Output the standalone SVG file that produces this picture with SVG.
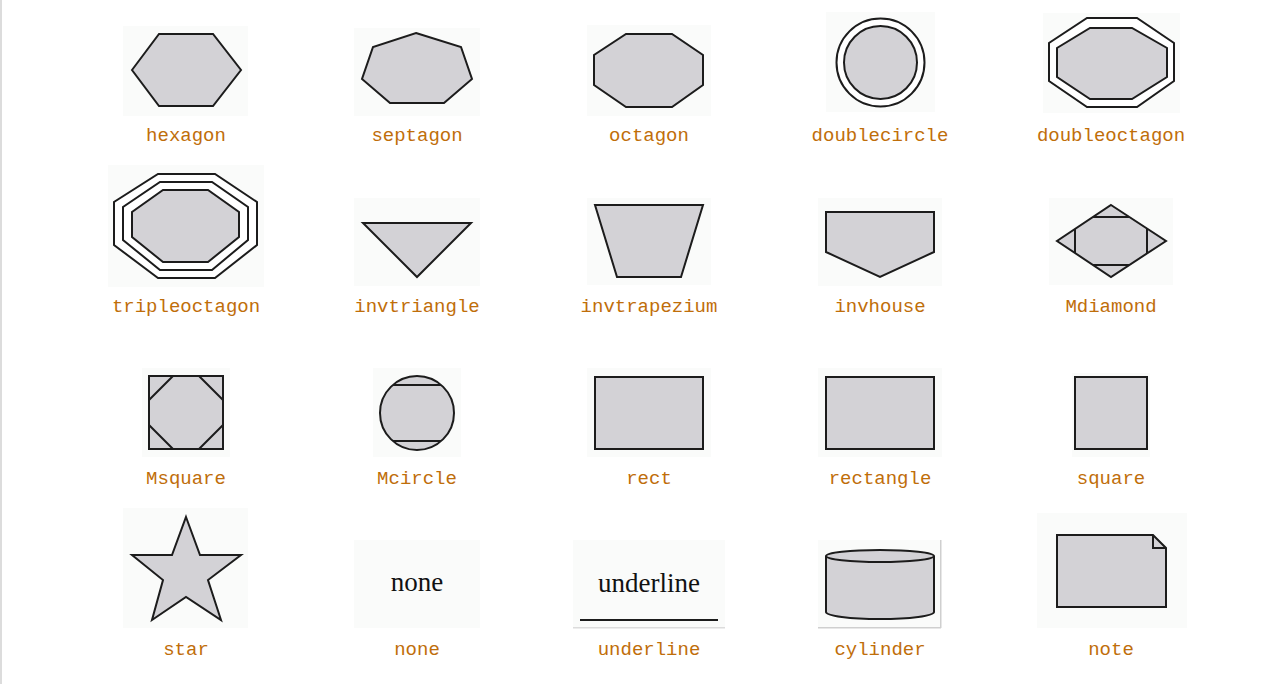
<svg xmlns="http://www.w3.org/2000/svg" width="1265" height="684" viewBox="0 0 1265 684">
<style>
.bg{fill:#fafbfa}
.s{fill:#d3d2d6;stroke:#1c1c1c;stroke-width:2;stroke-linejoin:miter}
.l{fill:none;stroke:#1c1c1c;stroke-width:2}
.w{fill:#ffffff;stroke:#1c1c1c;stroke-width:2}
.lab{font-family:"Liberation Mono","DejaVu Sans Mono",monospace;font-size:19px;fill:#bf6e0a;text-anchor:middle}
.ser{font-family:"Liberation Serif","Times New Roman",serif;font-size:27px;fill:#111;text-anchor:middle}
</style>
<rect x="0" y="0" width="1265" height="684" fill="#ffffff"/>
<rect x="0" y="0" width="2" height="684" fill="#dcdcdc"/>

<g id="hexagon">
<rect class="bg" x="123" y="26" width="125" height="90"/>
<polygon class="s" points="132,70 159,34 213,34 241,70 213,106 159,106"/>
<text class="lab" x="186" y="141">hexagon</text>
</g>
<g id="septagon">
<rect class="bg" x="354" y="28" width="126" height="88"/>
<polygon class="s" points="416,33 461,47 472,79 444,103 390,103 362,79 373,47"/>
<text class="lab" x="417" y="141">septagon</text>
</g>
<g id="octagon">
<rect class="bg" x="587" y="25" width="124" height="91"/>
<polygon class="s" points="626,34 672,34 703,55 703,85 672,107 626,107 594,85 594,55"/>
<text class="lab" x="649" y="141">octagon</text>
</g>
<g id="doublecircle">
<rect class="bg" x="826" y="12" width="109" height="100"/>
<circle class="w" cx="880.5" cy="62.5" r="44"/>
<circle class="s" cx="880.5" cy="62.5" r="36.5"/>
<text class="lab" x="880" y="141">doublecircle</text>
</g>
<g id="doubleoctagon">
<rect class="bg" x="1043" y="13" width="137" height="100"/>
<polygon class="w" points="1087,18 1137,18 1174,43 1174,81 1137,107 1087,107 1049,81 1049,43"/>
<polygon class="s" points="1090,28 1132,28 1167,48 1167,77 1132,99 1090,99 1057,77 1057,48"/>
<text class="lab" x="1111" y="141">doubleoctagon</text>
</g>

<g id="tripleoctagon">
<rect class="bg" x="108" y="165" width="156" height="122"/>
<polygon class="w" points="158,174 215,174 257,202 257,245 215,278 158,278 114,245 114,202"/>
<polygon class="w" points="160,182 212,182 248,207 248,240 212,270 160,270 123,240 123,207"/>
<polygon class="s" points="163,190 208,190 239,212 239,237 208,262 163,262 132,237 132,212"/>
<text class="lab" x="186" y="312">tripleoctagon</text>
</g>
<g id="invtriangle">
<rect class="bg" x="354" y="198" width="126" height="88"/>
<polygon class="s" points="363,223 471,223 417,277"/>
<text class="lab" x="417" y="312">invtriangle</text>
</g>
<g id="invtrapezium">
<rect class="bg" x="587" y="198" width="124" height="87"/>
<polygon class="s" points="595,205 703,205 681,277 617,277"/>
<text class="lab" x="649" y="312">invtrapezium</text>
</g>
<g id="invhouse">
<rect class="bg" x="818" y="198" width="124" height="88"/>
<polygon class="s" points="826,212 934,212 934,252 880,277 826,252"/>
<text class="lab" x="880" y="312">invhouse</text>
</g>
<g id="Mdiamond">
<rect class="bg" x="1049" y="198" width="124" height="87"/>
<polygon class="s" points="1111,205 1166,241 1111,277 1057,241"/>
<path class="l" d="M1093,217H1129M1093,265H1129M1075,229V253M1147,229V253"/>
<text class="lab" x="1111" y="312">Mdiamond</text>
</g>

<g id="Msquare">
<rect class="bg" x="142" y="368" width="88" height="89"/>
<rect class="s" x="149" y="376" width="74" height="73"/>
<path class="l" d="M149,400L173,376M199,376L223,400M223,425L199,449M173,449L149,425"/>
<text class="lab" x="186" y="484">Msquare</text>
</g>
<g id="Mcircle">
<rect class="bg" x="373" y="368" width="88" height="89"/>
<circle class="s" cx="417" cy="413" r="37"/>
<path class="l" d="M393,385H441M393,441H441"/>
<text class="lab" x="417" y="484">Mcircle</text>
</g>
<g id="rect">
<rect class="bg" x="587" y="368" width="124" height="89"/>
<rect class="s" x="595" y="377" width="108" height="72"/>
<text class="lab" x="649" y="484">rect</text>
</g>
<g id="rectangle">
<rect class="bg" x="818" y="368" width="124" height="89"/>
<rect class="s" x="826" y="377" width="108" height="72"/>
<text class="lab" x="880" y="484">rectangle</text>
</g>
<g id="square">
<rect class="bg" x="1072" y="373" width="78" height="84"/>
<rect class="s" x="1075" y="377" width="72" height="72"/>
<text class="lab" x="1111" y="484">square</text>
</g>

<g id="star">
<rect class="bg" x="123" y="508" width="125" height="120"/>
<polygon class="s" points="186,517 200,555 241,555 208,580 221,620 186,597 152,620 163,580 132,555 172,555"/>
<text class="lab" x="186" y="655">star</text>
</g>
<g id="none">
<rect class="bg" x="354" y="540" width="126" height="88"/>
<text class="ser" x="417" y="591">none</text>
<text class="lab" x="417" y="655">none</text>
</g>
<g id="underline">
<rect class="bg" x="573" y="540" width="152" height="88"/>
<rect x="573" y="627" width="152" height="1.5" fill="#dcdcdc"/>
<text class="ser" x="649" y="592">underline</text>
<line class="l" x1="580" y1="620" x2="718" y2="620"/>
<text class="lab" x="649" y="655">underline</text>
</g>
<g id="cylinder">
<rect class="bg" x="818" y="540" width="123" height="88"/>
<rect x="940" y="540" width="1.5" height="88" fill="#cfcfcf"/>
<rect x="818" y="627" width="123" height="1.5" fill="#cfcfcf"/>
<path class="s" d="M826,556V612A54,7 0 0 0 934,612V556A54,6 0 0 0 826,556Z"/>
<path class="l" d="M826,556A54,6 0 0 0 934,556"/>
<text class="lab" x="880" y="655">cylinder</text>
</g>
<g id="note">
<rect class="bg" x="1037" y="513" width="150" height="115"/>
<polygon class="s" points="1057,535 1153,535 1166,548 1166,607 1057,607"/>
<path class="l" d="M1153,535V548H1166"/>
<text class="lab" x="1111" y="655">note</text>
</g>
</svg>
